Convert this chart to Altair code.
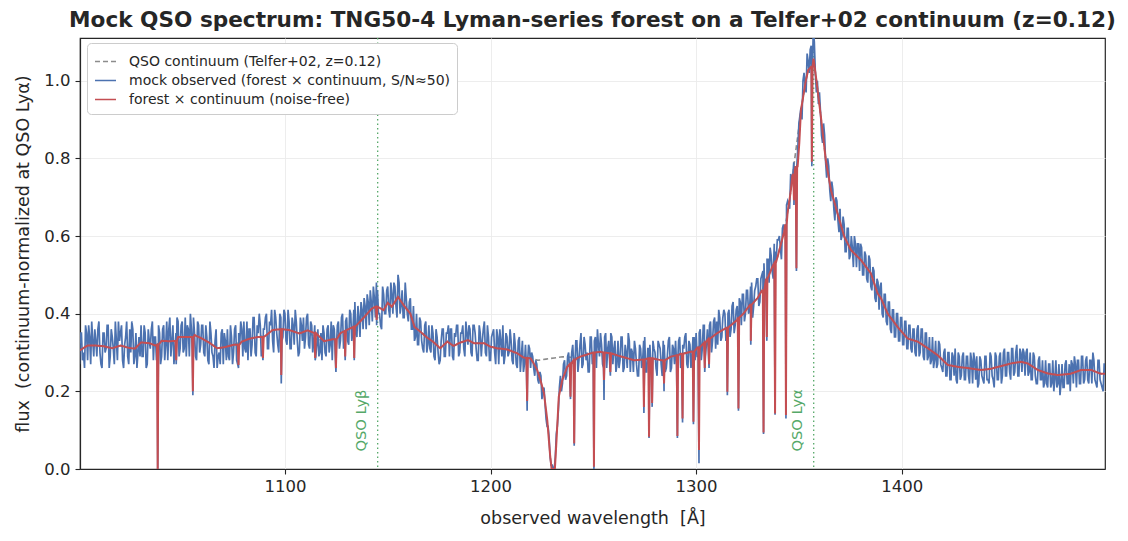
import altair as alt
import pandas as pd

TITLE = "Mock QSO spectrum: TNG50-4 Lyman-series forest on a Telfer+02 continuum (z=0.12)"
S_CONT = "QSO continuum (Telfer+02, z=0.12)"
S_OBS = "mock observed (forest × continuum, S/N≈50)"
S_RED = "forest × continuum (noise-free)"
SERIES = [S_CONT, S_OBS, S_RED]

# ---- QSO continuum nodes (observed wavelength in Angstrom, normalized flux)
cont_wl = [1000, 1004, 1008, 1012, 1016, 1020, 1024, 1027, 1030, 1034, 1037, 1040, 1044,
           1048, 1052, 1056, 1060, 1063, 1067, 1071, 1075, 1079, 1083, 1087, 1091, 1094,
           1098, 1102, 1107, 1111, 1115, 1119, 1123, 1127, 1130, 1134, 1138, 1142, 1144,
           1148, 1150, 1152, 1155, 1158, 1161, 1163, 1166, 1169, 1172, 1175.5, 1179, 1182,
           1185, 1189, 1192, 1197, 1200, 1203, 1208, 1213, 1216, 1219.5, 1223, 1227, 1231,
           1235, 1239, 1242, 1244, 1247, 1250, 1253.5, 1258, 1262, 1266, 1270, 1274, 1278,
           1283, 1287.6, 1292.5, 1297.4, 1300.6, 1305.5, 1310, 1315, 1320, 1323, 1326.6,
           1330, 1332, 1334.7, 1337, 1339.6, 1342.8, 1344.5, 1346.1, 1348, 1349.5, 1351,
           1353.4, 1354.5, 1356.1, 1357.1, 1358.3, 1360.7, 1363.1, 1365.6, 1368.8, 1372.1,
           1375.3, 1380.2, 1385, 1388.3, 1390, 1393.2, 1398, 1402.9, 1407.8, 1412.7, 1417.5,
           1422.4, 1427.3, 1432, 1438.5, 1443.4, 1448.3, 1453.2, 1458, 1461.3, 1466.2, 1471,
           1476, 1482, 1487.3, 1492.2, 1497, 1499]
cont_flux = [0.305, 0.318, 0.318, 0.316, 0.311, 0.318, 0.312, 0.310, 0.326, 0.324, 0.318, 0.330, 0.329,
             0.340, 0.340, 0.345, 0.335, 0.326, 0.311, 0.314, 0.320, 0.328, 0.336, 0.340, 0.345, 0.358,
             0.360, 0.358, 0.349, 0.357, 0.335, 0.329, 0.334, 0.350, 0.358, 0.366, 0.388, 0.412, 0.418,
             0.409, 0.428, 0.418, 0.443, 0.420, 0.400, 0.366, 0.353, 0.339, 0.328, 0.311, 0.328, 0.317,
             0.325, 0.332, 0.324, 0.324, 0.315, 0.311, 0.308, 0.298, 0.287, 0.285, 0.280, 0.283, 0.286,
             0.289, 0.288, 0.286, 0.290, 0.295, 0.300, 0.302, 0.298, 0.292, 0.286, 0.280, 0.282, 0.285,
             0.280, 0.289, 0.297, 0.302, 0.313, 0.332, 0.349, 0.364, 0.384, 0.400, 0.423,
             0.441, 0.460, 0.495, 0.520, 0.546, 0.610, 0.660, 0.718, 0.800, 0.860, 0.924,
             1.001, 1.027, 1.036, 1.057, 1.010, 0.907, 0.795, 0.718, 0.658, 0.598,
             0.564, 0.538, 0.504, 0.452, 0.439, 0.400, 0.366, 0.336, 0.328, 0.311, 0.293,
             0.268, 0.263, 0.260, 0.255, 0.258, 0.265, 0.272, 0.276, 0.272, 0.255, 0.246,
             0.242, 0.245, 0.255, 0.255, 0.245, 0.245]

# ---- broad absorption (noise-free) replacing the continuum in two ranges
trough_wl = [1219.5, 1221, 1222.7, 1224.5, 1226, 1227.6, 1228.9, 1229.7, 1231.3, 1232.1,
             1233.2, 1234.9, 1237.3, 1239.7, 1242]
trough_flux = [0.285, 0.272, 0.255, 0.225, 0.195, 0.126, 0.040, 0.0, 0.0, 0.075,
               0.186, 0.229, 0.263, 0.275, 0.285]
peak_abs_wl = [1346.1, 1346.8, 1348.0, 1349.4, 1350.2, 1351]
peak_abs_flux = [0.718, 0.755, 0.770, 0.780, 0.840, 0.924]

# ---- narrow forest lines: centre, local level, minimum (noise-free), minimum (observed)
dip_wl = [1038.1, 1047.1, 1055.2, 1077.4, 1089.3, 1098.2, 1114.7, 1124.8, 1129.3, 1133.7,
          1144.6, 1217.8, 1238.9, 1240.7, 1250.3, 1255.2, 1258.3, 1274.6, 1277.1, 1278.6,
          1284.4, 1290.9, 1293.4, 1298.7, 1301.4, 1304.2, 1306.3, 1315.2, 1320.6, 1326.6,
          1332.8, 1334.4, 1338.4, 1343.7, 1347.6, 1348.8, 1356.3]
dip_level = [0.320, 0.330, 0.340, 0.320, 0.340, 0.360, 0.350, 0.334, 0.355, 0.366,
             0.418, 0.286, 0.270, 0.280, 0.300, 0.300, 0.298, 0.282, 0.285, 0.285,
             0.280, 0.293, 0.297, 0.302, 0.313, 0.325, 0.335, 0.364, 0.390, 0.423,
             0.460, 0.490, 0.530, 0.630, 0.760, 0.780, 1.036]
dip_min = [0.0, 0.280, 0.200, 0.268, 0.286, 0.242, 0.286, 0.260, 0.290, 0.286,
           0.384, 0.175, 0.186, 0.066, 0.006, 0.229, 0.250, 0.160, 0.083, 0.170,
           0.220, 0.085, 0.130, 0.122, 0.049, 0.260, 0.270, 0.199, 0.156, 0.330,
           0.094, 0.340, 0.143, 0.139, 0.692, 0.517, 0.791]
obs_dip_min = [0.0, 0.27, 0.19, 0.26, 0.28, 0.22, 0.28, 0.25, 0.28, 0.28,
               0.37, 0.15, 0.18, 0.06, 0.0, 0.178, 0.24, 0.144, 0.08, 0.16,
               0.20, 0.08, 0.12, 0.115, 0.015, 0.25, 0.26, 0.19, 0.15, 0.32,
               0.09, 0.33, 0.14, 0.13, 0.68, 0.51, 0.78]

# ---- mock observed spectrum in units of 0.01; samples at whole Angstroms from 1000 ...
obs_start = 1000
obs_flux_pct = [
    27, 35, 30, 37, 28, 34, 38, 29, 33, 36,   # 1000
    30, 26, 35, 31, 37, 29, 34, 27, 33, 38,   # 1010
    35, 28, 32, 38, 27, 30, 36, 29, 26, 34,   # 1020
    37, 29, 35, 27, 33, 36, 28, 34, 30, 35,   # 1030
    29, 37, 32, 28, 39, 33, 27, 35, 38, 31,   # 1040
    38, 31, 29, 36, 40, 30, 35, 28, 37, 32,   # 1050
    37, 29, 34, 27, 35, 29, 33, 26, 30, 35,   # 1060
    27, 33, 36, 28, 34, 30, 37, 27, 32, 36,   # 1070
    38, 30, 28, 36, 32, 39, 29, 35, 37, 30,   # 1080
    36, 40, 31, 37, 33, 41, 35, 30, 39, 34,   # 1090
    40, 32, 38, 31, 37, 41, 33, 30, 37, 39,   # 1100
    34, 40, 31, 37, 33, 29, 36, 30, 28, 35,   # 1110
    29, 37, 32, 28, 36, 31, 38, 33, 40, 34,   # 1120
    39, 32, 40, 35, 43, 34, 39, 43, 36, 42,   # 1130
    45, 37, 43, 47, 39, 46, 40, 36, 45, 40,   # 1140
    47, 39, 45, 48, 42, 50, 40, 46, 39, 44,   # 1150
    38, 44, 36, 33, 40, 32, 38, 31, 37, 30,   # 1160
    37, 30, 35, 28, 34, 27, 33, 36, 29, 35,   # 1170
    29, 36, 28, 34, 37, 30, 35, 31, 38, 32,   # 1180
    36, 29, 37, 31, 28, 35, 33, 38, 29, 34,   # 1190
    28, 35, 30, 36, 27, 33, 37, 29, 34, 30,   # 1200
    33, 27, 32, 26, 34, 29, 25, 32, 27, 31,   # 1210
    30, 26, 28, 23, 25, 18, 21, 13, 11, 3,    # 1220
    1, 0, 9, 15, 24, 22, 28, 24, 30, 26,      # 1230
    32, 26, 33, 28, 35, 27, 32, 30, 25, 34,   # 1240
    28, 34, 36, 29, 32, 26, 35, 31, 27, 34,   # 1250
    31, 25, 33, 28, 34, 26, 30, 35, 25, 30,   # 1260
    33, 27, 24, 31, 28, 34, 25, 31, 27, 33,   # 1270
    30, 24, 32, 27, 33, 25, 29, 34, 26, 31,   # 1280
    33, 27, 34, 28, 31, 35, 26, 32, 29, 34,   # 1290
    35, 29, 36, 31, 37, 32, 30, 38, 33, 39,   # 1300
    38, 41, 33, 39, 40, 34, 41, 36, 43, 37,   # 1310
    42, 44, 37, 45, 40, 46, 41, 48, 42, 47,   # 1320
    49, 43, 50, 53, 48, 54, 57, 51, 58, 54,   # 1330
    59, 57, 62, 61, 68, 68, 76, 75, 78, 78,   # 1340
    89, 93, 100, 99, 107, 102, 109, 113, 102, 100,  # 1350
    97, 86, 89, 79, 80, 72, 74, 67, 70, 64,   # 1360
    67, 60, 63, 56, 62, 55, 57, 60, 52, 58,   # 1370
    58, 50, 56, 49, 55, 47, 52, 44, 49, 41,   # 1380
    48, 39, 45, 37, 43, 35, 41, 34, 40, 33,   # 1390
    39, 32, 38, 31, 37, 30, 36, 29, 37, 30,   # 1400
    36, 28, 35, 29, 27, 34, 28, 26, 33, 27,   # 1410
    25, 31, 24, 30, 23, 29, 31, 22, 29, 24,   # 1420
    30, 23, 29, 22, 28, 30, 23, 21, 29, 24,   # 1430
    22, 29, 23, 30, 24, 21, 29, 23, 30, 24,   # 1440
    31, 24, 30, 23, 31, 25, 32, 24, 30, 31,   # 1450
    24, 31, 25, 23, 30, 24, 22, 29, 23, 21,   # 1460
    28, 21, 27, 22, 20, 28, 22, 19, 27, 21,   # 1470
    28, 22, 20, 27, 29, 21, 28, 22, 29, 23,   # 1480
    29, 22, 28, 30, 23, 21, 28, 22, 20, 27,   # 1490
]
# ... and at the half Angstroms in between (1000.5, 1001.5, ...)
obs_flux_half_pct = [
    35, 28, 26, 35, 37, 27, 33, 36, 29, 38,   # 1000.5
    27, 35, 30, 37, 26, 36, 31, 38, 28, 33,   # 1010.5
    37, 26, 34, 29, 36, 38, 27, 35, 30, 29,   # 1020.5
    29, 37, 26, 36, 31, 38, 34, 28, 37, 27,   # 1030.5
    36, 28, 38, 36, 29, 37, 31, 39, 29, 37,   # 1040.5
    30, 39, 37, 29, 36, 39, 29, 38, 30, 37,   # 1050.5
    30, 37, 28, 38, 30, 26, 36, 29, 27, 36,   # 1060.5
    35, 28, 29, 37, 27, 36, 28, 35, 38, 29,   # 1070.5
    31, 38, 36, 29, 39, 30, 37, 40, 29, 36,   # 1080.5
    39, 31, 38, 41, 30, 39, 32, 40, 33, 41,   # 1090.5
    33, 41, 31, 39, 32, 38, 29, 39, 33, 31,   # 1100.5
    39, 32, 38, 30, 37, 32, 29, 35, 37, 30,   # 1110.5
    36, 30, 38, 37, 29, 37, 31, 39, 31, 38,   # 1120.5
    33, 41, 33, 41, 35, 42, 34, 41, 44, 36,   # 1130.5
    43, 46, 38, 44, 48, 40, 37, 47, 40, 46,   # 1140.5
    41, 48, 40, 47, 39, 48, 42, 39, 48, 40,   # 1150.5
    43, 36, 42, 34, 32, 39, 33, 30, 38, 32,   # 1160.5
    31, 37, 29, 36, 30, 28, 36, 29, 35, 37,   # 1170.5
    36, 29, 35, 37, 29, 35, 37, 29, 35, 37,   # 1180.5
    30, 37, 35, 28, 37, 29, 36, 30, 37, 28,   # 1190.5
    34, 36, 27, 34, 36, 29, 27, 35, 29, 36,   # 1200.5
    28, 35, 27, 33, 25, 33, 27, 26, 32, 26,   # 1210.5
    29, 24, 27, 22, 24, 20, 17, 11, 8, 1,     # 1220.5
    0, 3, 11, 21, 20, 27, 23, 29, 25, 30,     # 1230.5
    26, 33, 25, 32, 26, 34, 28, 25, 34, 27,   # 1240.5
    33, 26, 32, 35, 27, 34, 26, 33, 35, 27,   # 1250.5
    33, 27, 26, 34, 25, 32, 26, 33, 31, 25,   # 1260.5
    31, 24, 32, 26, 33, 25, 31, 32, 24, 31,   # 1270.5
    26, 33, 31, 24, 32, 26, 33, 25, 32, 27,   # 1280.5
    27, 33, 26, 32, 34, 27, 33, 26, 34, 28,   # 1290.5
    29, 35, 28, 37, 29, 36, 37, 30, 38, 31,   # 1300.5
    32, 39, 34, 41, 33, 40, 34, 42, 35, 41,   # 1310.5
    36, 43, 45, 38, 46, 40, 47, 39, 46, 49,   # 1320.5
    42, 49, 51, 45, 54, 48, 55, 49, 56, 59,   # 1330.5
    60, 54, 63, 60, 69, 67, 75, 79, 76, 83,   # 1340.5
    91, 90, 102, 97, 105, 108, 101, 110, 97, 94,  # 1350.5
    92, 84, 86, 75, 78, 69, 72, 64, 69, 61,   # 1360.5
    59, 65, 56, 62, 54, 60, 52, 58, 58, 51,   # 1370.5
    57, 50, 55, 48, 54, 46, 51, 43, 48, 47,   # 1380.5
    40, 45, 38, 43, 36, 41, 34, 40, 33, 39,   # 1390.5
    32, 38, 31, 37, 31, 36, 30, 36, 29, 36,   # 1400.5
    29, 35, 28, 34, 28, 26, 33, 27, 32, 26,   # 1410.5
    30, 24, 30, 23, 30, 24, 23, 30, 23, 29,   # 1420.5
    23, 29, 24, 30, 22, 28, 29, 22, 28, 23,   # 1430.5
    29, 23, 22, 29, 23, 30, 23, 29, 22, 30,   # 1440.5
    24, 30, 25, 31, 24, 30, 24, 31, 25, 30,   # 1450.5
    30, 24, 30, 23, 29, 22, 28, 23, 28, 22,   # 1460.5
    22, 27, 21, 28, 23, 21, 27, 22, 21, 27,   # 1470.5
    22, 27, 28, 22, 27, 28, 22, 29, 22, 28,   # 1480.5
    23, 28, 22, 28, 22, 28, 23, 21, 27, 22,   # 1490.5
]

# QSO emission lines at z~0.12 (observed)
line_names = ["QSO Lyβ", "QSO Lyα"]
line_wl = [1145.1, 1357.2]

# ------------------------------------------------------------------ build tables
DIP_HALF = 0.35
LABEL_SHIFT = 7.6   # label sits left of its line (Angstrom)
LABEL_Y = 0.045


def in_override(w):
    return (1219.5 <= w <= 1242) or (1346.1 <= w <= 1351)


cont_df = pd.DataFrame({"wl": cont_wl, "flux": cont_flux, "series": S_CONT})

red_pts = [(w, f) for w, f in zip(cont_wl, cont_flux) if not in_override(w)]
red_pts += list(zip(trough_wl, trough_flux))
red_pts += list(zip(peak_abs_wl, peak_abs_flux))
for c, lv, mn in zip(dip_wl, dip_level, dip_min):
    red_pts += [(c - DIP_HALF, lv), (c, mn), (c + DIP_HALF, lv)]
red_df = pd.DataFrame(red_pts, columns=["wl", "flux"]).sort_values("wl")
red_df["series"] = S_RED

obs_pts = [(obs_start + i, v / 100.0) for i, v in enumerate(obs_flux_pct)]
obs_pts += [(obs_start + i + 0.5, v / 100.0) for i, v in enumerate(obs_flux_half_pct)]
obs_pts += list(zip(dip_wl, obs_dip_min))
obs_df = pd.DataFrame(obs_pts, columns=["wl", "flux"]).sort_values("wl")
obs_df["series"] = S_OBS

lines_df = pd.DataFrame({"wl": line_wl, "name": line_names})
labels_df = pd.DataFrame({"wl": [w - LABEL_SHIFT for w in line_wl],
                          "flux": [LABEL_Y] * len(line_wl), "name": line_names})

# ------------------------------------------------------------------ encodings
FONT = "DejaVu Sans"
TXT = "#262626"
NB = "\u00a0"

xenc = alt.X("wl:Q",
             scale=alt.Scale(domain=[1000.3, 1498.9], nice=False, zero=False),
             axis=alt.Axis(title="observed wavelength" + NB + " [Å]",
                           values=[1100, 1200, 1300, 1400],
                           format="d", labelPadding=4, titlePadding=15))
yenc = alt.Y("flux:Q",
             scale=alt.Scale(domain=[0, 1.11], nice=False, zero=False),
             axis=alt.Axis(title="flux" + NB + " (continuum-normalized at QSO Lyα)",
                           values=[0, 0.2, 0.4, 0.6, 0.8, 1.0], format=".1f",
                           labelPadding=5, titlePadding=11))

legend = alt.Legend(title=None, orient="none", legendX=7, legendY=5,
                    fillColor="white", strokeColor="#cccccc", cornerRadius=4,
                    padding=7, labelFontSize=14, labelFont=FONT, labelColor=TXT,
                    symbolType="stroke", symbolSize=441, labelOffset=12,
                    symbolStrokeWidth=1.6, rowPadding=0, labelLimit=500)
color = alt.Color("series:N", scale=alt.Scale(domain=SERIES,
                                              range=["#8c8c8c", "#4c72b0", "#c44e52"]),
                  legend=legend)
dash = alt.StrokeDash("series:N", scale=alt.Scale(domain=SERIES,
                                                  range=[[5, 3], [1, 0], [1, 0]]),
                      legend=legend)


def spectrum_layer(df, sw):
    return alt.Chart(df).mark_line(clip=True, strokeWidth=sw).encode(
        x=xenc, y=yenc, color=color, strokeDash=dash)


cont_layer = spectrum_layer(cont_df, 1.6)
obs_layer = spectrum_layer(obs_df, 1.7)
red_layer = spectrum_layer(red_df, 2.0)

rules = alt.Chart(lines_df).mark_rule(color="#55a868", strokeDash=[1.5, 3],
                                      strokeWidth=1.3).encode(x=alt.X("wl:Q"))
texts = alt.Chart(labels_df).mark_text(angle=270, align="left", baseline="middle",
                                       color="#55a868", fontSize=14.7, font=FONT).encode(
    x=alt.X("wl:Q"), y=alt.Y("flux:Q"), text="name:N")

chart = alt.layer(cont_layer, rules, obs_layer, red_layer, texts).properties(
    width=1025, height=431,
    title=alt.TitleParams(TITLE, fontSize=21.6, font=FONT, fontWeight="bold", color=TXT,
                          anchor="middle", offset=6),
    autosize=alt.AutoSizeParams(type="none"),
    padding={"left": 80, "top": 38, "right": 23, "bottom": 72},
    background="white",
).configure_view(
    stroke=TXT, strokeWidth=1.2
).configure_axis(
    labelFont=FONT, titleFont=FONT, labelFontSize=16.5, titleFontSize=17.5,
    labelColor=TXT, titleColor=TXT, titleFontWeight="normal",
    tickColor=TXT, domainColor=TXT, tickSize=5, tickWidth=1.1, domainWidth=1.2,
    grid=True, gridColor="#ebebeb", gridWidth=0.9
)

chart.save("out.html", embed_options={"renderer": "svg", "actions": False})
